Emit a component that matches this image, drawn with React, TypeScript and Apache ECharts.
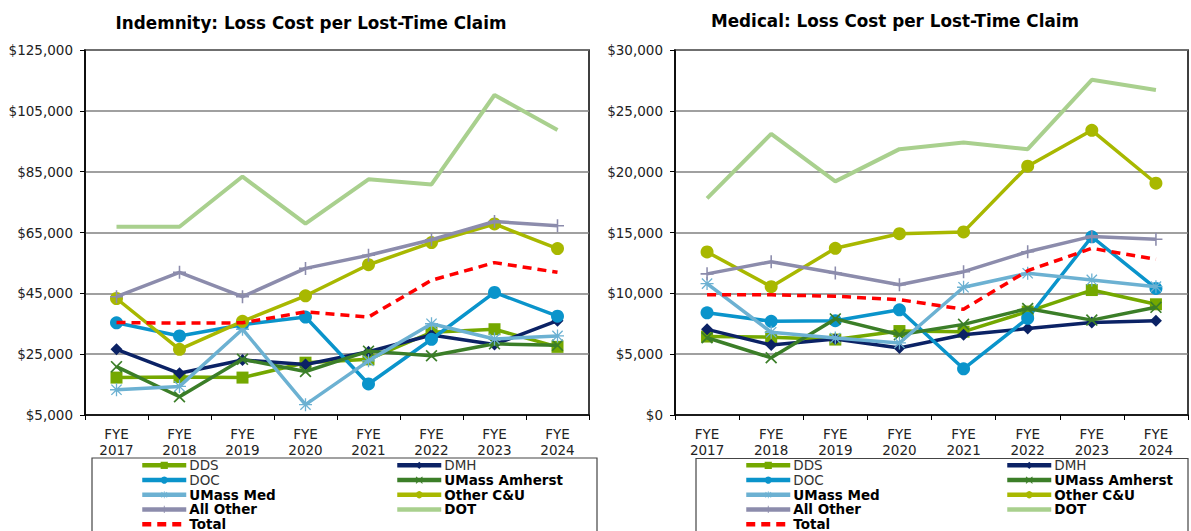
import React, { useEffect, useRef } from "react";
import * as echarts from "echarts";

const years = ["2017", "2018", "2019", "2020", "2021", "2022", "2023", "2024"];
const seriesNames = ["DDS", "DMH", "DOC", "UMass Amherst", "UMass Med", "Other C&U", "All Other", "DOT", "Total"];
const boldNames = ["UMass Amherst", "UMass Med", "Other C&U", "All Other", "DOT", "Total"];
const noMarkerNames = ["DOT", "Total"];
const legendLeftCol = ["DDS", "DOC", "UMass Med", "All Other"];
const legendLastRow = ["Total"];
const legendRightCol = ["DMH", "UMass Amherst", "Other C&U", "DOT"];

// Indemnity: Loss Cost per Lost-Time Claim
const indDDS = [17300, 17500, 17300, 22200, 23300, 32200, 33200, 27400];
const indDMH = [26600, 18700, 23100, 21600, 25800, 31300, 28200, 36000];
const indDOC = [35300, 31000, 34700, 37200, 15200, 29900, 45300, 37500];
const indAmherst = [20900, 11000, 23300, 19300, 26000, 24500, 28400, 27900];
const indMed = [13300, 14400, 33200, 8400, 22800, 35000, 30000, 31000];
const indOtherCU = [43300, 26600, 35800, 44200, 54400, 61700, 67800, 59700];
const indAllOther = [43900, 51900, 43900, 53200, 57500, 62600, 68600, 67200];
const indDOT = [66900, 66900, 83400, 67900, 82500, 80800, 110200, 98700];
const indTotal = [35400, 35200, 35300, 38900, 37200, 49300, 55100, 51900];

// Medical: Loss Cost per Lost-Time Claim
const medDDS = [6450, 6400, 6200, 6900, 6850, 8500, 10270, 9100];
const medDMH = [7040, 5750, 6250, 5500, 6600, 7100, 7600, 7750];
const medDOC = [8400, 7700, 7750, 8650, 3800, 7950, 14650, 10400];
const medAmherst = [6350, 4700, 7900, 6600, 7450, 8750, 7800, 8850];
const medMed = [10800, 6800, 6330, 5920, 10500, 11650, 11100, 10550];
const medOtherCU = [13400, 10550, 13700, 14900, 15050, 20450, 23400, 19050];
const medAllOther = [11600, 12600, 11670, 10700, 11780, 13420, 14680, 14440];
const medDOT = [17800, 23100, 19200, 21850, 22400, 21850, 27550, 26720];
const medTotal = [9880, 9880, 9760, 9480, 8690, 11860, 13700, 12800];

const indValues = [indDDS, indDMH, indDOC, indAmherst, indMed, indOtherCU, indAllOther, indDOT, indTotal];
const medValues = [medDDS, medDMH, medDOC, medAmherst, medMed, medOtherCU, medAllOther, medDOT, medTotal];

const FONT = "DejaVu Sans, Verdana, sans-serif";

const X_PATH = "path://M0,1 L1,0 L5,4 L9,0 L10,1 L6,5 L10,9 L9,10 L5,6 L1,10 L0,9 L4,5 Z";
const PLUS_PATH = "path://M4.4,0 L5.6,0 L5.6,4.4 L10,4.4 L10,5.6 L5.6,5.6 L5.6,10 L4.4,10 L4.4,5.6 L0,5.6 L0,4.4 L4.4,4.4 Z";
const STAR_PATH =
  "path://M4.5,0 L5.5,0 L5.5,4.5 L10,4.5 L10,5.5 L5.5,5.5 L5.5,10 L4.5,10 L4.5,5.5 L0,5.5 L0,4.5 L4.5,4.5 Z M0.7,1.4 L1.4,0.7 L5,4.3 L8.6,0.7 L9.3,1.4 L5.7,5 L9.3,8.6 L8.6,9.3 L5,5.7 L1.4,9.3 L0.7,8.6 L4.3,5 Z";

type Style = { color: string; symbol: string; size: number; width: number; dashed?: boolean };
const styles: Style[] = [
  { color: "#74A800", symbol: "rect", size: 12, width: 3.5 },
  { color: "#0B2265", symbol: "diamond", size: 12, width: 3.5 },
  { color: "#0A94CB", symbol: "circle", size: 13, width: 3.5 },
  { color: "#3B7E28", symbol: X_PATH, size: 12, width: 3.5 },
  { color: "#6CB1D2", symbol: STAR_PATH, size: 13, width: 3.5 },
  { color: "#A8B800", symbol: "circle", size: 13, width: 3.5 },
  { color: "#8C8CAC", symbol: PLUS_PATH, size: 13, width: 3.5 },
  { color: "#A9D08E", symbol: "none", size: 0, width: 4 },
  { color: "#FF0000", symbol: "none", size: 0, width: 3.5, dashed: true },
];

function makeSeries(values: number[][], axisIndex: number) {
  return seriesNames.map((name, i) => {
    const s = styles[i];
    return {
      name,
      type: "line",
      xAxisIndex: axisIndex,
      yAxisIndex: axisIndex,
      data: values[i],
      symbol: s.symbol,
      symbolSize: s.size,
      showSymbol: s.symbol !== "none",
      lineStyle: { color: s.color, width: s.width, type: s.dashed ? [9, 6] : "solid" },
      itemStyle: { color: s.color },
      emphasis: { disabled: true },
      z: 2 + i,
    };
  });
}

function legendFormatter(name: string) {
  return boldNames.includes(name) ? `{b|${name}}` : `{n|${name}}`;
}

function makeLegend(names: string[], left: number, top: number) {
  return {
    data: names.map((n) => (noMarkerNames.includes(n) ? { name: n, itemStyle: { opacity: 0 } } : { name: n })),
    orient: "vertical",
    left,
    top,
    padding: 0,
    itemGap: 0,
    itemWidth: 44,
    itemHeight: 9,
    selectedMode: false,
    formatter: legendFormatter,
    lineStyle: { width: 4.5 },
    textStyle: {
      fontFamily: FONT,
      fontSize: 13.5,
      lineHeight: 14.7,
      color: "#222",
      padding: [0, 0, 0, -2],
      rich: {
        b: { fontFamily: FONT, fontSize: 13.5, fontWeight: "bold", color: "#000", lineHeight: 14.7 },
        n: { fontFamily: FONT, fontSize: 13.5, color: "#333", lineHeight: 14.7 },
      },
    },
  };
}

function xAxisOpt(gridIndex: number) {
  return {
    type: "category",
    gridIndex,
    data: years,
    boundaryGap: true,
    axisLine: { show: true, lineStyle: { color: "#000", width: 1.5 } },
    axisTick: { show: true, interval: 0, length: 5, lineStyle: { color: "#000" } },
    axisLabel: {
      interval: 0,
      margin: 11,
      formatter: (v: string) => `FYE\n${v}`,
      fontFamily: FONT,
      fontSize: 13.5,
      lineHeight: 16,
      color: "#222",
    },
    splitLine: { show: false },
  };
}

function yAxisOpt(gridIndex: number, min: number, max: number, interval: number) {
  return {
    type: "value",
    gridIndex,
    min,
    max,
    interval,
    axisLine: { show: true, lineStyle: { color: "#000", width: 1.5 } },
    axisTick: { show: true, length: 5, lineStyle: { color: "#000" } },
    axisLabel: {
      margin: 12,
      fontFamily: FONT,
      fontSize: 13.5,
      color: "#222",
      formatter: (v: number) => "$" + v.toLocaleString("en-US"),
    },
    splitLine: { show: true, lineStyle: { color: "#808080", width: 1.5 } },
  };
}

export default function App() {
  const ref = useRef<HTMLDivElement>(null);
  useEffect(() => {
    document.body.style.margin = "0";
    if (!ref.current) return;
    const chart = echarts.init(ref.current, null, { renderer: "svg" });
    const rowH = 14.7;
    chart.setOption({
      animation: false,
      backgroundColor: "#fff",
      title: [
        {
          text: "Indemnity: Loss Cost per Lost-Time Claim",
          left: 306,
          top: 9,
          textAlign: "center",
          textStyle: { fontFamily: FONT, fontSize: 16.8, fontWeight: "bold", color: "#000" },
        },
        {
          text: "Medical: Loss Cost per Lost-Time Claim",
          left: 890,
          top: 7,
          textAlign: "center",
          textStyle: { fontFamily: FONT, fontSize: 16.8, fontWeight: "bold", color: "#000" },
        },
      ],
      grid: [
        { left: 85, top: 50, width: 504, height: 365, show: true, borderColor: "#000", borderWidth: 1.5, backgroundColor: "transparent" },
        { left: 675, top: 50, width: 513, height: 365, show: true, borderColor: "#000", borderWidth: 1.5, backgroundColor: "transparent" },
      ],
      xAxis: [xAxisOpt(0), xAxisOpt(1)],
      yAxis: [yAxisOpt(0, 5000, 125000, 20000), yAxisOpt(1, 0, 30000, 5000)],
      legend: [
        makeLegend(legendLeftCol, 140, 458),
        makeLegend(legendLastRow, 140, 458 + 4 * rowH),
        makeLegend(legendRightCol, 395, 458),
        makeLegend(legendLeftCol, 744, 458),
        makeLegend(legendLastRow, 744, 458 + 4 * rowH),
        makeLegend(legendRightCol, 1005, 458),
      ],
      graphic: [
        { type: "rect", shape: { x: 92, y: 458, width: 505, height: 90 }, style: { fill: "none", stroke: "#444", lineWidth: 1.2 }, silent: true },
        { type: "rect", shape: { x: 696, y: 458.5, width: 492, height: 90 }, style: { fill: "none", stroke: "#444", lineWidth: 1.2 }, silent: true },
      ],
      series: [...makeSeries(indValues, 0), ...makeSeries(medValues, 1)],
    });
    return () => chart.dispose();
  }, []);
  return <div ref={ref} style={{ width: 1191, height: 531 }} />;
}
